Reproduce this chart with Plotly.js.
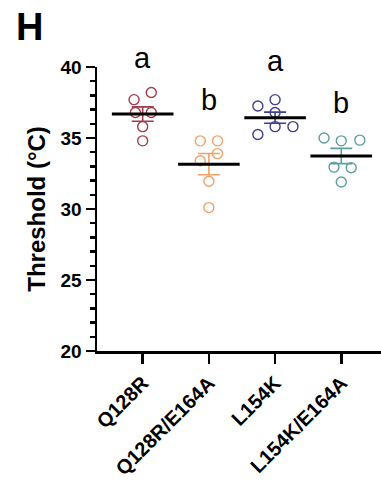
<!DOCTYPE html>
<html>
<head>
<meta charset="utf-8">
<script src="https://cdn.plot.ly/plotly-3.0.1.min.js"></script>
<style>
  html, body { margin: 0; padding: 0; background: #ffffff; }
  #chart { width: 381px; height: 485px; }
</style>
</head>
<body>
<div id="chart"></div>
<script>
// Heat-activation threshold of each mutant (°C), one value per cell
const groups = ['Q128R', 'Q128R/E164A', 'L154K', 'L154K/E164A'];
const q128r      = [38.2, 37.7, 36.8, 36.8, 35.8, 34.8];
const q128rE164a = [34.8, 34.8, 33.9, 33.4, 31.95, 30.1];
const l154k      = [37.25, 37.7, 36.8, 35.8, 35.8, 35.25];
const l154kE164a = [35.0, 34.8, 34.85, 32.95, 32.9, 31.9];
// horizontal scatter offsets of the dots (category units)
const spread = [
  [0.13, -0.13, -0.11, 0.13, 0, 0],
  [-0.13, 0.13, 0.13, -0.13, 0, 0],
  [-0.26, 0, 0, 0, 0.27, -0.26],
  [-0.26, 0, 0.28, -0.11, 0.15, 0]
];
// significance groups and the level their letters sit on
const letters = ['a', 'b', 'a', 'b'];
const letterLevel = [39.35, 36.4, 39.15, 36.2];
const colors = ['#9e3d4c', '#f0a06a', '#3f3f8f', '#5f9ea0'];

const values = [q128r, q128rE164a, l154k, l154kE164a];

function mean(a) { return a.reduce((s, v) => s + v, 0) / a.length; }
function sem(a) {
  const m = mean(a);
  const ss = a.reduce((s, v) => s + (v - m) * (v - m), 0);
  return Math.sqrt(ss / (a.length - 1)) / Math.sqrt(a.length);
}

const font = 'Liberation Sans, Arial, sans-serif';
const traces = [];
// individual cells
values.forEach((vals, i) => {
  traces.push({
    type: 'scatter', mode: 'markers',
    x: vals.map((v, k) => i + spread[i][k]),
    y: vals,
    marker: { symbol: 'circle-open', size: 10, color: colors[i], line: { width: 1.4, color: colors[i] } },
    showlegend: false, hoverinfo: 'y', cliponaxis: false
  });
});
// mean ± SEM
values.forEach((vals, i) => {
  traces.push({
    type: 'scatter', mode: 'markers',
    x: [i], y: [mean(vals)],
    marker: { symbol: 'line-ew', size: 44, color: '#000', line: { width: 3, color: '#000' } },
    error_y: { type: 'data', array: [sem(vals)], visible: true, color: colors[i], thickness: 1.6, width: 11 },
    showlegend: false, hoverinfo: 'y', cliponaxis: false
  });
});

const annotations = letters.map((t, i) => ({
  x: i, y: letterLevel[i], xref: 'x', yref: 'y', text: t, showarrow: false,
  xanchor: 'center', yanchor: 'bottom',
  font: { family: font, size: 29, color: '#000' }
}));
// panel letter
annotations.push({
  x: (14 - 97) / 284, y: 1 + (67 - 4) / 284, xref: 'paper', yref: 'paper',
  text: 'H', showarrow: false, xanchor: 'left', yanchor: 'top',
  font: { family: font, size: 38, color: '#000', weight: 'bold' }
});

const layout = {
  width: 381, height: 485,
  margin: { l: 97, r: 0, t: 67, b: 134, pad: 0 },
  paper_bgcolor: '#fff', plot_bgcolor: '#fff',
  font: { family: font, color: '#000' },
  xaxis: {
    range: [-0.69, 3.6],
    tickmode: 'array', tickvals: [0, 1, 2, 3], ticktext: groups,
    tickangle: -45,
    ticks: 'outside', ticklen: 10, tickwidth: 2.5, tickcolor: '#000',
    showline: true, linecolor: '#000', linewidth: 2.5,
    showgrid: false, zeroline: false,
    tickfont: { family: font, size: 20, weight: 'bold', color: '#000' }
  },
  yaxis: {
    range: [20, 40],
    tickvals: [20, 25, 30, 35, 40],
    ticks: 'outside', ticklen: 9, tickwidth: 2.5, tickcolor: '#000',
    minor: { dtick: 1, ticks: 'outside', ticklen: 5, tickwidth: 2.5, tickcolor: '#000', showgrid: false },
    showline: true, linecolor: '#000', linewidth: 2.5,
    showgrid: false, zeroline: false,
    tickfont: { family: font, size: 19, weight: 'bold', color: '#000' },
    title: { text: 'Threshold (°C)', standoff: 8, font: { family: font, size: 24, weight: 'bold', color: '#000' } }
  },
  annotations: annotations
};

Plotly.newPlot('chart', traces, layout, { displayModeBar: false, staticPlot: true });
</script>
</body>
</html>
